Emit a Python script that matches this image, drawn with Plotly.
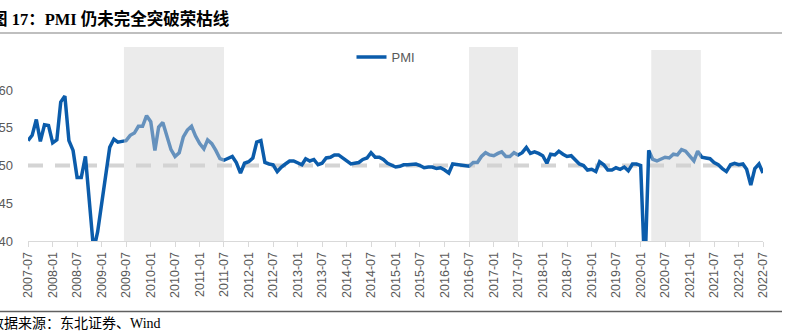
import pandas as pd
import plotly.graph_objects as go

# Monthly manufacturing PMI, 2007-07 .. 2022-07
pmi_2007 = [53.3, 54.0, 56.1, 53.2, 55.4, 55.3]
pmi_2008 = [53.0, 53.4, 58.4, 59.2, 53.3, 52.0, 48.4, 48.4, 51.2, 44.6, 38.8, 41.2]
pmi_2009 = [45.3, 49.0, 52.4, 53.5, 53.1, 53.2, 53.3, 54.0, 54.3, 55.2, 55.2, 56.6]
pmi_2010 = [55.8, 52.0, 55.1, 55.7, 53.9, 52.1, 51.2, 51.7, 53.8, 54.7, 55.2, 53.9]
pmi_2011 = [52.9, 52.2, 53.4, 52.9, 52.0, 50.9, 50.7, 50.9, 51.2, 50.4, 49.0, 50.3]
pmi_2012 = [50.5, 51.0, 53.1, 53.3, 50.4, 50.2, 50.1, 49.2, 49.8, 50.2, 50.6, 50.6]
pmi_2013 = [50.4, 50.1, 50.9, 50.6, 50.8, 50.1, 50.3, 51.0, 51.1, 51.4, 51.4, 51.0]
pmi_2014 = [50.5, 50.2, 50.3, 50.4, 50.8, 51.0, 51.7, 51.1, 51.1, 50.8, 50.3, 50.1]
pmi_2015 = [49.8, 49.9, 50.1, 50.1, 50.2, 50.2, 50.0, 49.7, 49.8, 49.8, 49.6, 49.7]
pmi_2016 = [49.4, 49.0, 50.2, 50.1, 50.1, 50.0, 49.9, 50.4, 50.4, 51.2, 51.7, 51.4]
pmi_2017 = [51.3, 51.6, 51.8, 51.2, 51.2, 51.7, 51.4, 51.7, 52.4, 51.6, 51.8, 51.6]
pmi_2018 = [51.3, 50.3, 51.5, 51.4, 51.9, 51.5, 51.2, 51.3, 50.8, 50.2, 50.0, 49.4]
pmi_2019 = [49.5, 49.2, 50.5, 50.1, 49.4, 49.4, 49.7, 49.5, 49.8, 49.3, 50.2, 50.2]
pmi_2020 = [50.0, 35.7, 52.0, 50.8, 50.6, 50.9, 51.1, 51.0, 51.5, 51.4, 52.1, 51.9]
pmi_2021 = [51.3, 50.6, 51.9, 51.1, 51.0, 50.9, 50.4, 50.1, 49.6, 49.2, 50.1, 50.3]
pmi_2022 = [50.1, 50.2, 49.5, 47.4, 49.6, 50.2, 49.0]

pmi = (pmi_2007 + pmi_2008 + pmi_2009 + pmi_2010 + pmi_2011 + pmi_2012 + pmi_2013
       + pmi_2014 + pmi_2015 + pmi_2016 + pmi_2017 + pmi_2018 + pmi_2019 + pmi_2020
       + pmi_2021 + pmi_2022)
months = pd.date_range("2007-07-01", periods=len(pmi), freq="MS")

boom_bust = 50
boom_bust_span = ["2007-07-01", "2022-04-01"]

tick_labels = ["2007-07", "2008-01", "2008-07", "2009-01", "2009-07", "2010-01", "2010-07",
               "2011-01", "2011-07", "2012-01", "2012-07", "2013-01", "2013-07", "2014-01",
               "2014-07", "2015-01", "2015-07", "2016-01", "2016-07", "2017-01", "2017-07",
               "2018-01", "2018-07", "2019-01", "2019-07", "2020-01", "2020-07", "2021-01",
               "2021-07", "2022-01", "2022-07"]
tick_vals = [t + "-01" for t in tick_labels]

shaded_periods = [("2009-06-15", "2011-07-01"), ("2016-07-01", "2017-07-01"),
                  ("2020-03-20", "2021-03-25")]

y_ticks = [40, 45, 50, 55, 60]

title_text = "<b>图 17：PMI 仍未完全突破荣枯线</b>"
source_text = "数据来源：东北证券、Wind"

W, H = 794, 332
L, R, T, B = 28, 31, 47, 91
pw = W - L - R
ph = H - T - B

def px_x(p):
    return (p - L) / pw

def px_y(p):
    return (H - B - p) / ph

fig = go.Figure()
fig.add_trace(go.Scatter(
    x=boom_bust_span, y=[boom_bust, boom_bust], mode="lines",
    line=dict(color="#d4d4d4", width=4, dash="15px,12px"),
    showlegend=False, hoverinfo="skip"))
fig.add_trace(go.Scatter(
    x=months, y=pmi, mode="lines", name="PMI",
    line=dict(color="#0b5cab", width=3.5)))

shapes = []
for i, (a, b) in enumerate(shaded_periods):
    shapes.append(dict(type="rect", xref="x", yref="y domain", x0=a, x1=b,
                       y0=0, y1=(0.985 if i == 2 else 1.0),
                       fillcolor="rgba(210,210,210,0.45)", line=dict(width=0),
                       layer="above"))
# page rules (title underline, footer line)
shapes.append(dict(type="line", xref="paper", yref="paper", x0=px_x(0), x1=px_x(782),
                   y0=px_y(33), y1=px_y(33), line=dict(color="#808080", width=1.2)))
shapes.append(dict(type="line", xref="paper", yref="paper", x0=px_x(0), x1=px_x(782),
                   y0=px_y(311.5), y1=px_y(311.5), line=dict(color="#606060", width=1.5)))

annotations = [
    dict(text=title_text, xref="paper", yref="paper", x=px_x(-11), y=px_y(19),
         xanchor="left", yanchor="middle", showarrow=False,
         font=dict(family="Liberation Serif, Noto Sans CJK SC", size=16.5, color="#000000")),
    dict(text=source_text, xref="paper", yref="paper", x=px_x(-12), y=px_y(323),
         xanchor="left", yanchor="middle", showarrow=False,
         font=dict(family="Liberation Serif, Noto Sans CJK SC", size=14, color="#000000")),
]

fig.update_layout(
    width=W, height=H, margin=dict(l=L, r=R, t=T, b=B, autoexpand=False),
    paper_bgcolor="white", plot_bgcolor="white",
    shapes=shapes, annotations=annotations,
    showlegend=True,
    legend=dict(orientation="h", x=px_x(386), xanchor="center", y=px_y(57), yanchor="middle",
                font=dict(family="Liberation Sans", size=13, color="#595959"),
                itemwidth=30, bgcolor="rgba(0,0,0,0)"),
    font=dict(family="Liberation Sans", color="#595959"),
)
fig.update_xaxes(
    type="date", range=["2007-07-01", "2022-07-01"], automargin=False,
    tickmode="array", tickvals=tick_vals, ticktext=tick_labels, tickangle=-90,
    tickfont=dict(family="Liberation Sans", size=12.5, color="#595959"),
    showline=True, linecolor="#d9d9d9", linewidth=1,
    ticks="outside", ticklen=5, tickcolor="#d9d9d9",
    showgrid=False, zeroline=False)
fig.update_yaxes(
    range=[40, 65.7], tickmode="array", tickvals=y_ticks, automargin=False,
    tickfont=dict(family="Liberation Sans", size=13, color="#595959"),
    showline=False, showgrid=False, zeroline=False, ticks="",
    ticklabelstandoff=14)

fig.write_html("out.html")
